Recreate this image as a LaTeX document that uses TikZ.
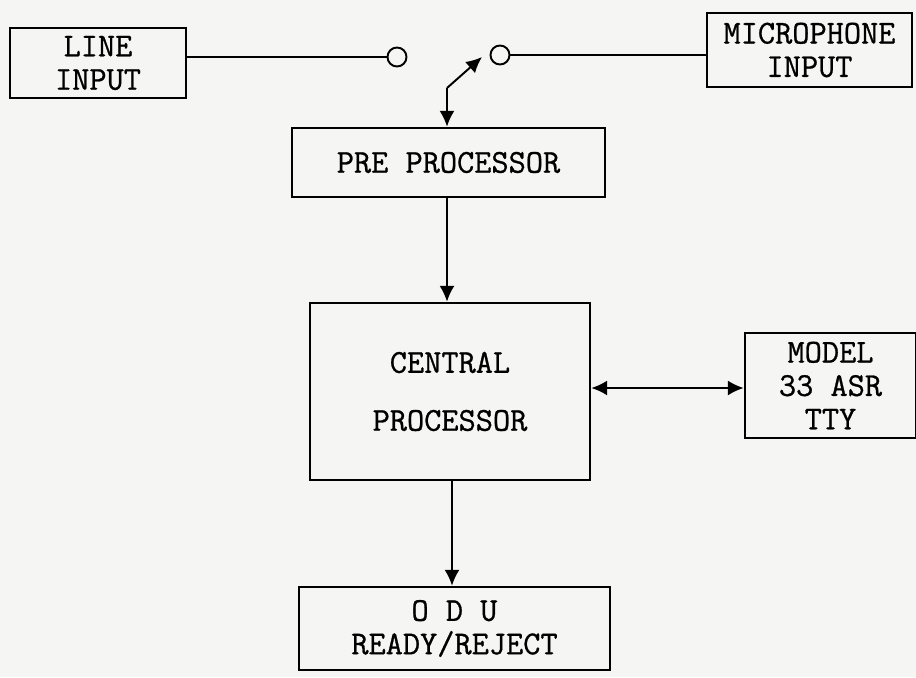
\documentclass[tikz,border=0pt]{standalone}
\usepackage{fontspec}
\newfontfamily\typer{Latin Modern Mono}[FakeBold=0.8]
\usetikzlibrary{arrows.meta}
\definecolor{paper}{RGB}{245,245,243}
\begin{document}
\begin{tikzpicture}[
        x=0.02cm, y=-0.02cm,
        >={Latex[length=9pt,width=8.5pt]},
        block/.style={draw, line width=1.5pt, inner sep=0pt, align=center,
            font=\typer\fontsize{19}{19}\selectfont},
        contact/.style={draw, circle, line width=1.1pt, fill=paper,
            minimum size=0.38cm, inner sep=0pt},
        wire/.style={line width=1.1pt},
        link/.style={->, line width=1.1pt}
    ]
        \fill[paper] (0,0) rectangle (916,677);
        \useasboundingbox (0,0) rectangle (916,677);
        \node[block, minimum width=3.52cm, minimum height=1.40cm] (line) at (98,63)
            {LINE\\INPUT};
        \node[block, minimum width=4.10cm, minimum height=1.48cm] (mic) at (809.5,50)
            {MICROPHONE\\INPUT};
        \node[block, minimum width=6.26cm, minimum height=1.38cm] (pre) at (448.5,162.5)
            {PRE PROCESSOR};
        \node[block, minimum width=5.60cm, minimum height=3.54cm,
            font=\typer\fontsize{19}{33}\selectfont] (central) at (450,391.5)
            {CENTRAL\\PROCESSOR};
        \node[block, minimum width=3.42cm, minimum height=2.10cm] (tty) at (830.5,385.5)
            {MODEL\\33 ASR\\TTY};
        \node[block, minimum width=6.22cm, minimum height=1.66cm] (odu) at (454.5,628.5)
            {O D U\\READY/REJECT};
        % input switch
        \node[contact] (sw1) at (397,57) {};
        \node[contact] (sw2) at (500,55) {};
        \coordinate (pivot) at (447,88);
        \coordinate (arm) at (482,57);
        \draw[wire] (line.east |- sw1) -- (sw1);
        \draw[wire] (sw2) -- (mic.west |- sw2);
        \draw[link] (pivot) -- (arm);
        \draw[link] (pivot) -- (pivot |- pre.north);
        \draw[link] (pre.south -| pivot) -- (pivot |- central.north);
        \draw[<->, wire] (central.east |- 0,388) -- (tty.west |- 0,388);
        \draw[link] (central.south -| 452,0) -- (odu.north -| 452,0);
    \end{tikzpicture}
\end{document}
